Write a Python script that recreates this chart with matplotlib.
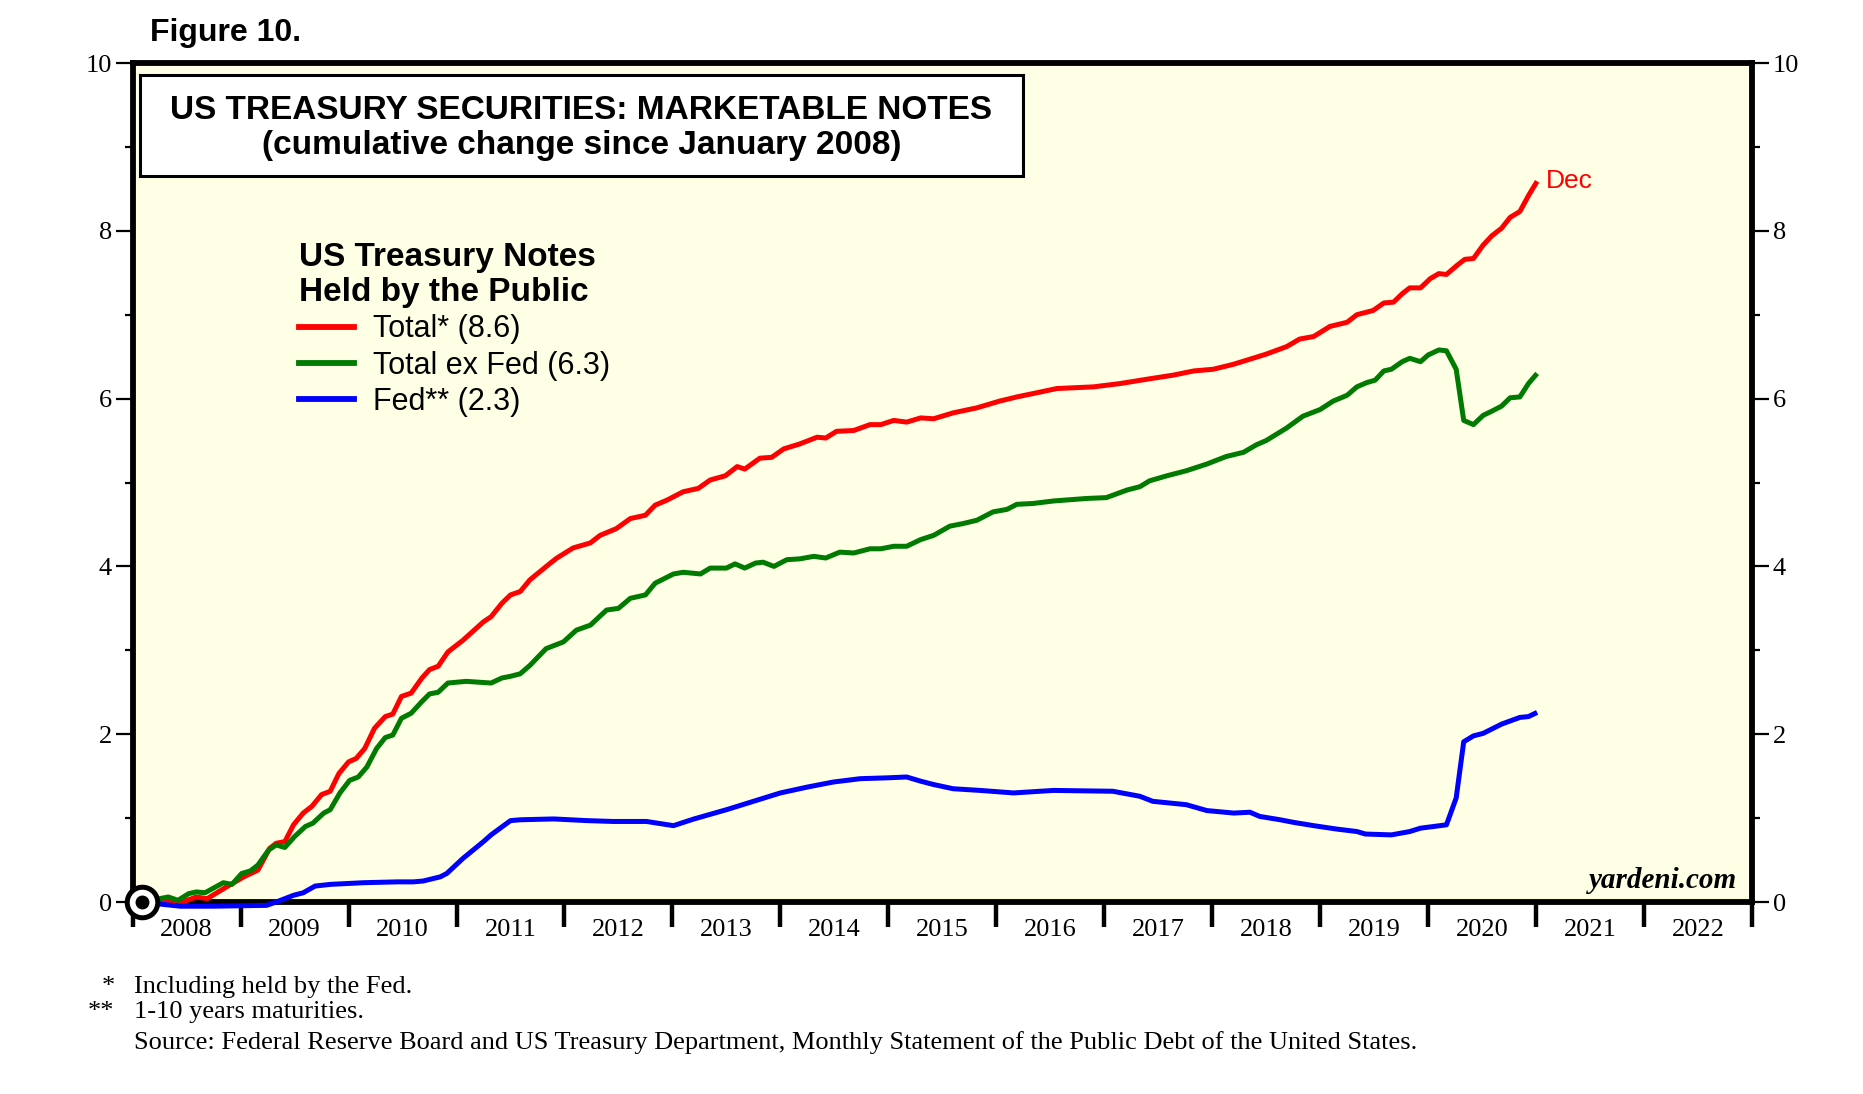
import matplotlib
matplotlib.use("Agg")
import matplotlib.pyplot as plt
from matplotlib.patches import Rectangle
from matplotlib.lines import Line2D

# cumulative change since Jan 2008, trillion dollars
total_years = [2008.09, 2008.22, 2008.44, 2008.59, 2008.69, 2008.87, 2009.03, 2009.16, 2009.27, 2009.33,
               2009.41, 2009.49, 2009.58, 2009.66, 2009.75, 2009.83, 2009.91, 2010.0, 2010.07, 2010.15,
               2010.24, 2010.34, 2010.41, 2010.49, 2010.58, 2010.68, 2010.75, 2010.83, 2010.92, 2011.06,
               2011.25, 2011.32, 2011.42, 2011.5, 2011.59, 2011.68, 2011.87, 2011.93, 2012.08, 2012.24,
               2012.33, 2012.48, 2012.61, 2012.75, 2012.84, 2012.95, 2013.1, 2013.24, 2013.35, 2013.49,
               2013.6, 2013.67, 2013.81, 2013.92, 2014.03, 2014.18, 2014.34, 2014.42, 2014.52, 2014.68,
               2014.83, 2014.93, 2015.05, 2015.17, 2015.3, 2015.42, 2015.6, 2015.82, 2016.03, 2016.19,
               2016.34, 2016.56, 2016.9, 2017.15, 2017.39, 2017.64, 2017.83, 2018.01, 2018.2, 2018.35,
               2018.5, 2018.69, 2018.81, 2018.94, 2019.09, 2019.25, 2019.34, 2019.49, 2019.59, 2019.68,
               2019.76, 2019.83, 2019.93, 2020.02, 2020.1, 2020.17, 2020.27, 2020.34, 2020.42, 2020.51,
               2020.59, 2020.68, 2020.76, 2020.85, 2020.93, 2021.01]
total_vals = [0.0, 0.02, -0.01, 0.06, 0.04, 0.18, 0.30, 0.38, 0.64, 0.70,
              0.72, 0.92, 1.06, 1.14, 1.28, 1.32, 1.53, 1.67, 1.71, 1.83,
              2.07, 2.21, 2.24, 2.45, 2.49, 2.67, 2.77, 2.81, 2.98, 3.12,
              3.34, 3.40, 3.56, 3.66, 3.70, 3.84, 4.04, 4.10, 4.22, 4.28,
              4.37, 4.45, 4.57, 4.61, 4.73, 4.79, 4.89, 4.93, 5.03, 5.08,
              5.19, 5.16, 5.29, 5.30, 5.40, 5.46, 5.54, 5.53, 5.61, 5.62,
              5.69, 5.69, 5.74, 5.72, 5.77, 5.76, 5.83, 5.89, 5.97, 6.02,
              6.06, 6.12, 6.14, 6.18, 6.23, 6.28, 6.33, 6.35, 6.41, 6.47,
              6.53, 6.62, 6.71, 6.74, 6.86, 6.91, 7.00, 7.05, 7.14, 7.15,
              7.25, 7.32, 7.32, 7.43, 7.49, 7.48, 7.59, 7.66, 7.67, 7.83,
              7.94, 8.03, 8.16, 8.23, 8.42, 8.59]

exfed_years = [2008.09, 2008.33, 2008.42, 2008.52, 2008.59, 2008.67, 2008.84, 2008.92, 2009.01, 2009.09,
               2009.16, 2009.26, 2009.33, 2009.41, 2009.5, 2009.6, 2009.67, 2009.77, 2009.83, 2009.92,
               2010.01, 2010.09, 2010.17, 2010.26, 2010.34, 2010.41, 2010.49, 2010.58, 2010.68, 2010.75,
               2010.83, 2010.92, 2011.09, 2011.32, 2011.42, 2011.5, 2011.59, 2011.68, 2011.83, 2011.99,
               2012.11, 2012.24, 2012.39, 2012.5, 2012.61, 2012.75, 2012.84, 2013.01, 2013.1, 2013.26,
               2013.35, 2013.5, 2013.58, 2013.67, 2013.77, 2013.84, 2013.94, 2014.06, 2014.18, 2014.31,
               2014.42, 2014.55, 2014.68, 2014.83, 2014.93, 2015.05, 2015.17, 2015.3, 2015.42, 2015.57,
               2015.69, 2015.82, 2015.97, 2016.1, 2016.19, 2016.34, 2016.53, 2016.84, 2017.02, 2017.21,
               2017.33, 2017.42, 2017.58, 2017.76, 2017.95, 2018.13, 2018.29, 2018.41, 2018.5, 2018.69,
               2018.84, 2019.0, 2019.12, 2019.25, 2019.34, 2019.43, 2019.51, 2019.59, 2019.66, 2019.76,
               2019.83, 2019.93, 2020.0, 2020.1, 2020.17, 2020.26, 2020.33, 2020.42, 2020.51, 2020.59,
               2020.68, 2020.76, 2020.85, 2020.93, 2021.01]
exfed_vals = [0.0, 0.06, 0.02, 0.10, 0.12, 0.11, 0.23, 0.21, 0.34, 0.37,
              0.44, 0.62, 0.68, 0.65, 0.78, 0.90, 0.94, 1.06, 1.10, 1.30,
              1.45, 1.49, 1.61, 1.83, 1.96, 1.99, 2.19, 2.25, 2.39, 2.48,
              2.50, 2.61, 2.63, 2.61, 2.67, 2.69, 2.72, 2.82, 3.02, 3.10,
              3.24, 3.30, 3.48, 3.50, 3.62, 3.66, 3.80, 3.91, 3.93, 3.91,
              3.98, 3.98, 4.03, 3.98, 4.04, 4.05, 4.00, 4.08, 4.09, 4.12,
              4.10, 4.17, 4.16, 4.21, 4.21, 4.24, 4.24, 4.32, 4.37, 4.48,
              4.51, 4.55, 4.65, 4.68, 4.74, 4.75, 4.78, 4.81, 4.82, 4.91,
              4.95, 5.02, 5.08, 5.14, 5.22, 5.31, 5.36, 5.45, 5.50, 5.65,
              5.79, 5.87, 5.97, 6.04, 6.14, 6.19, 6.22, 6.33, 6.35, 6.44,
              6.48, 6.44, 6.52, 6.58, 6.57, 6.35, 5.74, 5.69, 5.80, 5.85,
              5.91, 6.01, 6.02, 6.18, 6.30]

fed_years = [2008.09, 2008.22, 2008.44, 2008.75, 2009.24, 2009.33, 2009.49, 2009.58, 2009.69, 2009.83,
             2010.14, 2010.45, 2010.6, 2010.69, 2010.85, 2010.91, 2011.06, 2011.25, 2011.32, 2011.5,
             2011.59, 2011.9, 2012.21, 2012.45, 2012.76, 2013.01, 2013.2, 2013.5, 2013.75, 2014.0,
             2014.25, 2014.49, 2014.74, 2014.99, 2015.17, 2015.3, 2015.42, 2015.6, 2015.85, 2016.16,
             2016.53, 2017.08, 2017.33, 2017.45, 2017.76, 2017.95, 2018.2, 2018.35, 2018.44, 2018.63,
             2018.75, 2018.94, 2019.15, 2019.34, 2019.42, 2019.66, 2019.83, 2019.93, 2020.17, 2020.26,
             2020.33, 2020.42, 2020.51, 2020.68, 2020.85, 2020.93, 2021.01]
fed_vals = [0.0, -0.02, -0.05, -0.05, -0.04, 0.0, 0.08, 0.11, 0.19, 0.21,
            0.23, 0.24, 0.24, 0.25, 0.30, 0.34, 0.52, 0.72, 0.80, 0.97,
            0.98, 0.99, 0.97, 0.96, 0.96, 0.91, 0.99, 1.10, 1.20, 1.30,
            1.37, 1.43, 1.47, 1.48, 1.49, 1.44, 1.40, 1.35, 1.33, 1.30,
            1.33, 1.32, 1.26, 1.20, 1.16, 1.09, 1.06, 1.07, 1.02, 0.98,
            0.95, 0.91, 0.87, 0.84, 0.81, 0.80, 0.84, 0.88, 0.92, 1.24,
            1.91, 1.98, 2.01, 2.12, 2.20, 2.21, 2.26]

year_labels = [str(y) for y in range(2008, 2023)]
legend_labels = ["Total* (8.6)", "Total ex Fed (6.3)", "Fed** (2.3)"]

sans = "Liberation Sans"
serif = "Liberation Serif"

fig = plt.figure(figsize=(18.63, 10.94), dpi=100)
ax = fig.add_axes([0.0712, 0.1755, 0.8692, 0.7669])
ax.set_facecolor("#ffffe6")

ax.plot(total_years, total_vals, color="#ff0000", lw=3.6, zorder=4, clip_on=False, solid_capstyle="butt")
ax.plot(exfed_years, exfed_vals, color="#007a00", lw=3.6, zorder=4, clip_on=False, solid_capstyle="butt")
ax.plot(fed_years, fed_vals, color="#0000ff", lw=3.6, zorder=4, clip_on=False, solid_capstyle="butt")

# origin marker
ax.plot([total_years[0]], [total_vals[0]], "o", ms=22, mfc="white", mec="black", mew=3.6, zorder=6, clip_on=False)
ax.plot([total_years[0]], [total_vals[0]], "o", ms=9, color="black", zorder=7, clip_on=False)

ax.set_xlim(2008, 2023)
ax.set_ylim(0, 10)

for s in ax.spines.values():
    s.set_linewidth(4.2)

ax.set_xticks(range(2008, 2024))
ax.set_xticklabels([])
ax.set_xticks([y + 0.5 for y in range(2008, 2023)], minor=True)
ax.set_xticklabels(year_labels, minor=True, fontfamily=serif, fontsize=19)
ax.tick_params(axis="x", which="major", direction="out", length=18, width=3.2, bottom=True, top=False)
ax.tick_params(axis="x", which="minor", length=0, pad=12)

ax.set_yticks(range(0, 11, 2))
ax.set_yticks(range(1, 10, 2), minor=True)
ax.tick_params(axis="y", which="major", direction="out", length=12, width=1.6,
               left=True, right=True, labelleft=True, labelright=True, labelsize=19, pad=3)
ax.tick_params(axis="y", which="minor", direction="out", length=6, width=1.6, left=True, right=True)
for lab in ax.get_yticklabels():
    lab.set_fontfamily(serif)

# title box
ax.add_patch(Rectangle((0.0045, 0.8653), 0.5453, 0.1204, transform=ax.transAxes,
                       facecolor="white", edgecolor="black", lw=2.2, zorder=5))
ax.text(0.277, 0.943, "US TREASURY SECURITIES: MARKETABLE NOTES", transform=ax.transAxes,
        ha="center", va="center", fontsize=24, fontweight="bold", fontfamily=sans, zorder=6)
ax.text(0.277, 0.902, "(cumulative change since January 2008)", transform=ax.transAxes,
        ha="center", va="center", fontsize=24, fontweight="bold", fontfamily=sans, zorder=6)

handles = [Line2D([], [], color=c, lw=4.2) for c in ["#ff0000", "#007a00", "#0000ff"]]
leg = ax.legend(handles, legend_labels, loc="upper left", bbox_to_anchor=(0.086, 0.82),
                frameon=False, handlelength=1.8, handletextpad=0.6, labelspacing=0.2,
                prop={"family": sans, "size": 22},
                title="US Treasury Notes\nHeld by the Public",
                title_fontproperties={"family": sans, "size": 24, "weight": "bold"},
                alignment="left")

ax.annotate("Dec", xy=(total_years[-1], total_vals[-1]), xytext=(6, 0), textcoords="offset points",
            color="#ff0000", fontsize=19, fontfamily=sans, va="center", ha="left")

ax.text(0.991, 0.01, "yardeni.com", transform=ax.transAxes, ha="right", va="bottom",
        fontsize=21, fontweight="bold", fontstyle="italic", fontfamily=serif)

fig.text(0.0805, 0.9697, "Figure 10.", fontsize=23, fontweight="bold", fontfamily=sans, va="center")

fig.text(0.0615, 0.0978, "*", fontsize=19, fontfamily=serif, ha="right", va="center")
fig.text(0.0615, 0.0745, "**", fontsize=19, fontfamily=serif, ha="right", va="center")
fig.text(0.072, 0.0978, "Including held by the Fed.", fontsize=19, fontfamily=serif, va="center")
fig.text(0.072, 0.0745, "1-10 years maturities.", fontsize=19, fontfamily=serif, va="center")
fig.text(0.072, 0.0475, "Source: Federal Reserve Board and US Treasury Department, Monthly Statement of the Public Debt of the United States.",
         fontsize=19, fontfamily=serif, va="center")

fig.savefig("out.png", dpi=100, facecolor="white")
